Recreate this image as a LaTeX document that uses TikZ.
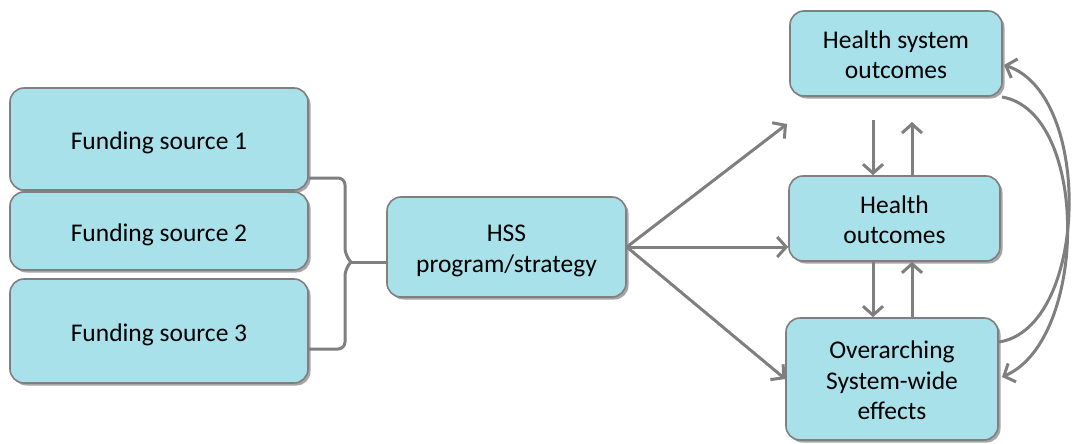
\documentclass[tikz,border=0pt]{standalone}
\usepackage{fontspec}
\setmainfont{Carlito}
\usetikzlibrary{arrows.meta,shadows,positioning}
\definecolor{boxfill}{HTML}{A8E1EA}
\definecolor{boxline}{HTML}{7F7F7F}
\definecolor{linkgray}{HTML}{7F7F7F}
% box text, set a little lower than the geometric centre
\newcommand{\boxtext}[1]{\raisebox{-4pt}[\height][\depth]{\setlength{\tabcolsep}{0pt}\renewcommand{\arraystretch}{0.97}\begin{tabular}{c}#1\end{tabular}}}
\tikzset{
  block/.style={draw=boxline, line width=1.6pt, fill=boxfill, rounded corners=14pt,
    inner sep=0pt, align=center, text=black,
    font=\fontsize{25.5}{31}\selectfont,
    drop shadow={shadow xshift=2.5pt, shadow yshift=-2.5pt, fill=black, opacity=0.35}},
  link/.style={draw=linkgray, line width=3pt,
    -{Straight Barb[length=9pt,width=20pt,line width=3pt]}},
  bracepath/.style={draw=linkgray, line width=3pt, rounded corners=7pt}
}
\begin{document}
\begin{tikzpicture}[x=1pt,y=-1pt]
\useasboundingbox[fill=white] (0,0) rectangle (1084,444);

% funding sources
\node[block, minimum width=298pt, minimum height=102pt] (fs1) at (159,139) {\boxtext{Funding source 1}};
\node[block, minimum width=298pt, minimum height=78pt]  (fs2) at (159,231) {\boxtext{Funding source 2}};
\node[block, minimum width=298pt, minimum height=104pt] (fs3) at (159,331) {\boxtext{Funding source 3}};

% programme
\node[block, minimum width=239pt, minimum height=100pt] (hss) at (506.5,247) {\boxtext{HSS\\program/strategy}};

% outcomes
\node[block, minimum width=212pt, minimum height=85pt]  (hso) at (896,53.5) {\boxtext{Health system\\outcomes}};
\node[block, minimum width=211pt, minimum height=85pt]  (ho)  at (894.5,218.5) {\boxtext{Health\\outcomes}};
\node[block, minimum width=212pt, minimum height=122pt] (ose) at (892,379) {\boxtext{Overarching\\System-wide\\effects}};

% brace joining the funding sources
\coordinate (btop) at (fs1.east |- 0,178);
\coordinate (bbot) at (fs3.east |- 0,349);
\coordinate (btip) at (351,262);
\draw[bracepath] (btop) -- (345,178) -- (345,255) -- (btip);
\draw[bracepath] (bbot) -- (345,349) -- (345,269) -- (btip);
\draw[draw=linkgray, line width=3pt] (btip) -- (hss.west |- btip);

% programme to outcomes
\coordinate (up1) at (787,124);
\draw[link] (hss.east) -- (up1);
\draw[link] (hss.east) -- (hss.east -| ho.west);
\draw[link] (hss.east) -- (ose.west);

% vertical links
\coordinate (d1s) at (873,120);
\coordinate (u1e) at (912,122);
\draw[link] (d1s) -- (d1s |- ho.north);
\draw[link] (u1e |- ho.north) -- (u1e);
\draw[link] (873,0 |- ho.south) -- (873,0 |- ose.north);
\draw[link] (912,0 |- ose.north) -- (912,0 |- ho.south);

% feedback loops on the right
\coordinate (c1s) at (1002,97);
\coordinate (c1e) at (1002,377);
\coordinate (c2s) at (999,342);
\coordinate (c2e) at (1004,65);
\draw[link] (c1s) .. controls (1090,112) and (1088,340) .. (c1e);
\draw[link] (c2s) .. controls (1088,328) and (1094,95) .. (c2e);
\end{tikzpicture}
\end{document}
